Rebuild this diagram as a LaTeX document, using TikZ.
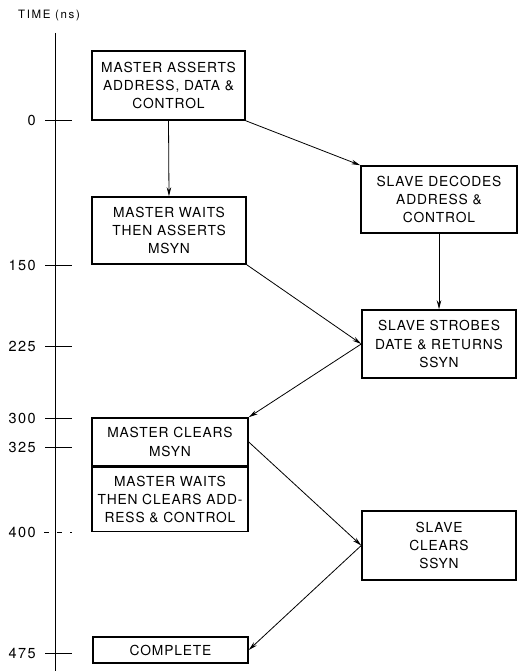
\documentclass[tikz,border=0pt]{standalone}
\usepackage{fontspec}
\setmainfont{TeX Gyre Heros}
\newfontfamily\boxfont[LetterSpace=6]{TeX Gyre Heros}
\newfontfamily\tickfont[LetterSpace=10]{TeX Gyre Heros}
\newfontfamily\titlefont[LetterSpace=14]{TeX Gyre Heros}
\usetikzlibrary{arrows.meta}
\begin{document}
\begin{tikzpicture}[x=1pt,y=-1pt,
  stepbox/.style={draw,line width=1.5pt,align=center,inner sep=0pt,
    font=\boxfont\fontsize{13.8}{18.3}\selectfont},
  conn/.style={line width=0.8pt,-{Stealth[length=9pt,width=4.5pt]}},
  tick/.style={line width=0.9pt},
  ticklabel/.style={anchor=east,inner sep=0pt,font=\tickfont\fontsize{14.5}{16}\selectfont}]
\useasboundingbox (0,0) rectangle (518,671);
% time axis
\coordinate (axtop) at (55,33);
\coordinate (axbot) at (55,671);
\draw[line width=1pt] (axtop) -- (axbot);
\node[inner sep=0pt,font=\titlefont\fontsize{11.5}{13}\selectfont] (title) at (49,16) {TIME (ns)};
% ticks
\foreach \t/\y in {0/120,150/265,225/346,300/418,325/447,475/653}{
  \draw[tick] (45,\y) -- (72,\y);
  \node[ticklabel] (l\t) at (36,\y) {\t};
}
\draw[tick,dash pattern=on 5pt off 8pt] (44,532) -- (72,532);
\node[ticklabel] (l400) at (36,532) {400};
% boxes
\node[stepbox,minimum width=153pt,minimum height=69pt] (b1) at (168.5,85.5)
  {MASTER ASSERTS\\ADDRESS, DATA \&\\CONTROL};
\node[stepbox,minimum width=154pt,minimum height=67pt] (b2) at (169,230.5)
  {MASTER WAITS\\THEN ASSERTS\\MSYN};
\node[stepbox,minimum width=156pt,minimum height=67pt] (b3) at (439,199.5)
  {SLAVE DECODES\\ADDRESS \&\\CONTROL};
\node[stepbox,minimum width=154pt,minimum height=68pt] (b4) at (439,344)
  {SLAVE STROBES\\DATE \& RETURNS\\SSYN};
\node[stepbox,minimum width=156pt,minimum height=48pt] (b5) at (170,442)
  {MASTER CLEARS\\MSYN};
\node[stepbox,minimum width=156pt,minimum height=64pt] (b6) at (170,499.5)
  {MASTER WAITS\\THEN CLEARS ADD-\\RESS \& CONTROL};
\node[stepbox,minimum width=154pt,minimum height=69pt] (b7) at (439,545.5)
  {SLAVE\\CLEARS\\SSYN};
\node[stepbox,minimum width=155pt,minimum height=26pt] (b8) at (170.5,650)
  {COMPLETE};
% connectors
\draw[conn] (b1.south) -- (b2.north);
\draw[conn] (b1.south east) -- (b3.north west);
\draw[conn] (b3.south) -- (b4.north);
\draw[conn] (b2.south east) -- (b4.west);
\draw[conn] (b4.west) -- (b5.north east);
\draw[conn] (b5.east) -- (b7.west);
\draw[conn] (b7.west) -- (b8.east);
\end{tikzpicture}
\end{document}
